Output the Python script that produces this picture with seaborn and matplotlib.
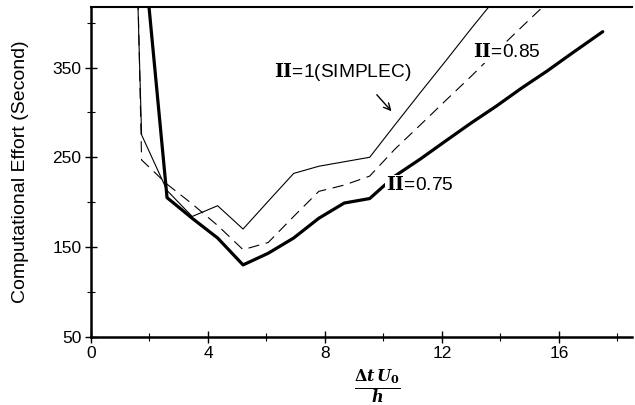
import matplotlib
matplotlib.use("Agg")
import matplotlib.pyplot as plt
import numpy as np
import pandas as pd
import seaborn as sns
from matplotlib.ticker import MultipleLocator

# ---- data ----
x_simplec = [0.87, 1.73, 2.60, 3.46, 4.33, 5.20, 6.06, 6.93, 7.79, 8.66, 9.53,
             10.39, 11.26, 12.12, 12.99, 13.86]
y_simplec = [1270, 275, 213, 184, 196, 170, 201, 232, 240, 245, 250,
             286, 322, 357, 393, 428]

x_085 = [0.87, 1.73, 2.60, 3.46, 4.33, 5.20, 6.06, 6.93, 7.79, 8.66, 9.53,
         10.39, 11.26, 12.12, 12.99, 13.86, 14.72, 15.59]
y_085 = [1520, 247, 220, 198, 174, 147, 155, 184, 212, 219, 229,
         259, 286, 313, 340, 368, 395, 422]

x_075 = [1.73, 2.60, 3.46, 4.33, 5.20, 6.06, 6.93, 7.79, 8.66, 9.53,
         10.39, 11.26, 12.12, 12.99, 13.86, 14.72, 15.59, 16.45, 17.50]
y_075 = [505, 205, 182, 160, 130, 143, 160, 182, 199, 204,
         229, 248, 268, 288, 307, 327, 346, 366, 390]

x_ticks = [0, 4, 8, 12, 16]
y_ticks = [50, 150, 250, 350]

label_simplec = "=1(SIMPLEC)"
label_085 = "=0.85"
label_075 = "=0.75"
ylabel = "Computational Effort (Second)"

# ---- style ----
sns.set_theme(style="white")
plt.rcParams["font.family"] = ["Liberation Sans", "DejaVu Sans"]
plt.rcParams.update({"text.color": "black", "axes.labelcolor": "black",
                     "xtick.color": "black", "ytick.color": "black"})

fig = plt.figure(figsize=(6.35, 4.05), dpi=100)
ax = fig.add_axes([91 / 635, 1 - 336.7 / 405, (632 - 91) / 635, (336.7 - 7) / 405])

df_s = pd.DataFrame({"x": x_simplec, "y": y_simplec})
df_85 = pd.DataFrame({"x": x_085, "y": y_085})
df_75 = pd.DataFrame({"x": x_075, "y": y_075})

sns.lineplot(data=df_s, x="x", y="y", ax=ax, color="black", lw=0.8, sort=False)
sns.lineplot(data=df_85, x="x", y="y", ax=ax, color="black", lw=0.8,
             linestyle=(0, (10, 6)), sort=False)
sns.lineplot(data=df_75, x="x", y="y", ax=ax, color="black", lw=2.3, sort=False)

ax.set_xlim(0, 18.5)
ax.set_ylim(50, 417.5)
ax.set_xticks(x_ticks)
ax.set_yticks(y_ticks)
ax.xaxis.set_minor_locator(MultipleLocator(2))
ax.yaxis.set_minor_locator(MultipleLocator(50))
ax.tick_params(which="major", direction="inout", length=8, width=1,
               color="black", labelcolor="black", labelsize=12.5, pad=3,
               left=True, bottom=True)
ax.tick_params(which="minor", direction="inout", length=6, width=0.8,
               color="black", left=True, bottom=True)

for side in ["left", "bottom"]:
    ax.spines[side].set_linewidth(1.8)
    ax.spines[side].set_color("black")
ax.spines["top"].set_linewidth(1.5)
ax.spines["top"].set_color("black")
ax.spines["right"].set_visible(False)

ax.set_ylabel(ylabel, fontsize=14, color="black")
ax.yaxis.set_label_coords(-0.115, 0.5)

ax.set_xlabel(r"$\frac{\mathbf{\Delta}\mathbfit{t}\,\mathbfit{U}_{\mathbf{0}}}{\mathbfit{h}}$",
              fontsize=16.5, math_fontfamily="dejavuserif", color="black")
ax.xaxis.set_label_coords(0.53, -0.095)

bbox = dict(facecolor="white", edgecolor="none", pad=1.0)
roman = r"$\mathbf{II}$"
ax.text(6.25, 345, roman + label_simplec, fontsize=13.8, va="center", ha="left",
        math_fontfamily="dejavuserif", bbox=bbox, color="black")
ax.text(13.05, 367, roman + label_085, fontsize=13.8, va="center", ha="left",
        math_fontfamily="dejavuserif", bbox=bbox, color="black")
ax.text(10.1, 219, roman + label_075, fontsize=13.8, va="center", ha="left",
        math_fontfamily="dejavuserif", bbox=bbox, color="black")

ax.annotate("", xy=(10.34, 299), xytext=(9.71, 322),
            arrowprops=dict(arrowstyle="->", color="black", lw=1.0))

fig.savefig("out.png", dpi=100)
